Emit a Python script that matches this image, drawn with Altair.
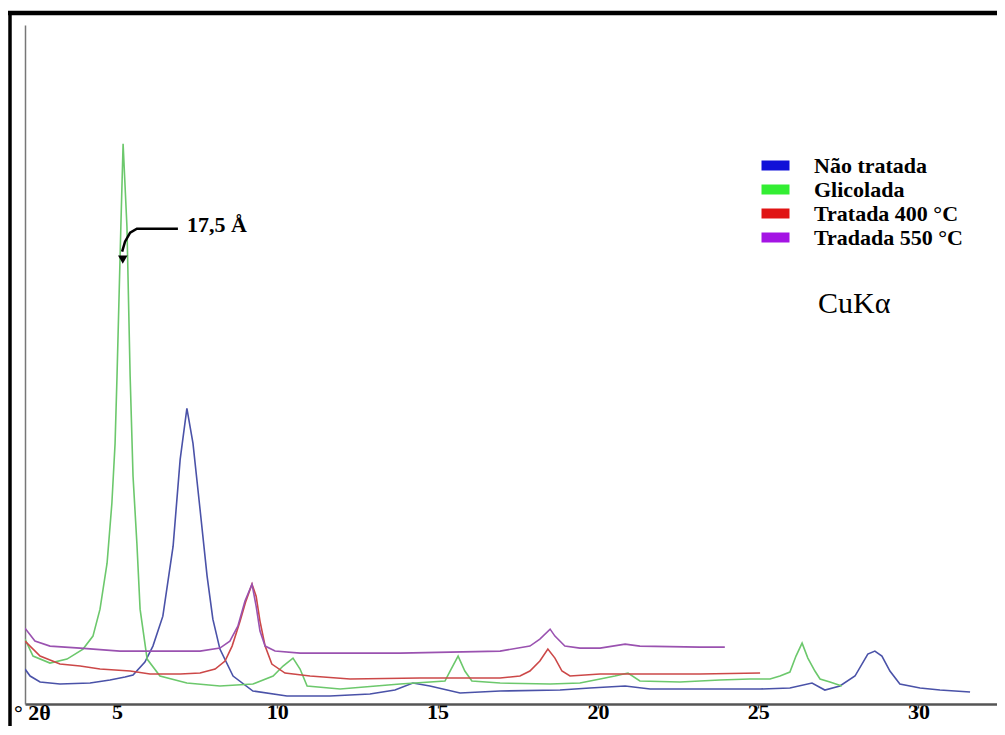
import altair as alt
import pandas as pd

# ---- data (2θ in degrees, intensity in arbitrary units) ----
blue_x = [2.13, 2.29, 2.60, 3.22, 4.16, 4.78, 5.25, 5.50, 5.87, 6.12, 6.43, 6.75, 6.97, 7.18,
          7.37, 7.59, 7.81, 7.99, 8.21, 8.62, 9.24, 10.30, 11.64, 12.89, 13.67, 14.23, 14.76,
          15.70, 16.95, 18.82, 19.75, 20.85, 21.63, 23.18, 25.06, 25.99, 26.68, 27.08, 27.55,
          28.02, 28.42, 28.64, 28.86, 29.11, 29.42, 30.05, 30.67, 31.61]
blue_y = [35, 28, 22, 20, 21, 24, 27, 29, 42, 58, 88, 158, 245, 296,
          261, 195, 128, 85, 55, 28, 13, 8, 8, 10, 14, 21, 18,
          11, 13, 14, 16, 18, 15, 15, 15, 16, 21, 14, 18,
          28, 50, 53, 48, 33, 20, 16, 14, 12]

green_x = [2.13, 2.38, 2.91, 3.44, 3.94, 4.25, 4.47, 4.69, 4.84, 4.94, 5.00, 5.12, 5.19, 5.31,
           5.41, 5.50, 5.62, 5.72, 5.94, 6.34, 7.18, 8.21, 9.24, 9.87, 10.18, 10.49, 10.71,
           10.93, 11.96, 13.83, 15.23, 15.39, 15.64, 15.85, 16.07, 16.95, 18.51, 19.44, 20.07,
           20.53, 20.94, 21.31, 22.56, 23.81, 24.74, 25.37, 25.68, 25.99, 26.18, 26.37, 26.55,
           26.77, 26.93, 27.24, 27.61]
green_y = [65, 48, 41, 45, 55, 68, 95, 141, 201, 261, 328, 478, 561, 478,
           328, 228, 161, 95, 45, 28, 21, 18, 20, 28, 38, 46, 35,
           18, 15, 20, 23, 33, 48, 33, 23, 21, 20, 21, 25,
           28, 31, 23, 22, 24, 25, 25, 28, 32, 48, 61, 46,
           33, 25, 22, 18]

red_x = [2.13, 2.60, 3.22, 3.85, 4.47, 5.41, 6.03, 6.97, 7.59, 8.06, 8.37, 8.59, 8.84, 9.02,
         9.21, 9.34, 9.46, 9.62, 9.83, 10.24, 11.02, 12.27, 14.45, 16.95, 17.57, 17.88, 18.19,
         18.44, 18.66, 18.88, 19.13, 20.07, 21.63, 23.18, 25.06]
red_y = [63, 48, 40, 38, 35, 33, 30, 30, 31, 35, 43, 58, 83, 103,
         120, 108, 83, 58, 40, 31, 28, 25, 26, 26, 28, 33, 43,
         55, 46, 33, 28, 30, 30, 30, 31]

purple_x = [2.13, 2.44, 2.91, 3.85, 5.09, 6.34, 7.59, 8.21, 8.52, 8.77, 8.99, 9.21, 9.34, 9.46,
            9.62, 9.93, 10.71, 13.83, 16.95, 17.88, 18.19, 18.51, 18.66, 18.97, 19.44, 20.07,
            20.85, 21.31, 23.18, 23.96]
purple_y = [76, 63, 58, 56, 53, 53, 53, 56, 63, 78, 103, 120, 98, 73,
            58, 53, 51, 51, 53, 58, 65, 75, 68, 58, 56, 56,
            60, 58, 57, 57]

series_names = ["Não tratada", "Glicolada", "Tratada 400 °C", "Tradada 550 °C"]
line_colors = ["#4a52a8", "#6cc86c", "#cc4848", "#9a52b0"]
legend_colors = ["#1010d8", "#33ee33", "#e01414", "#a414e4"]
x_ticks = [5, 10, 15, 20, 25, 30]

# annotation arrow for the 17,5 Å peak
arrow_x = [6.90, 5.62, 5.41, 5.25, 5.16]
arrow_y = [476, 476, 472, 463, 453]
arrow_label = "17,5 Å"

rows = []
for name, xs, ys in zip(series_names, [blue_x, green_x, red_x, purple_x],
                        [blue_y, green_y, red_y, purple_y]):
    for a, b in zip(xs, ys):
        rows.append({"serie": name, "theta": a, "I": b})
df = pd.DataFrame(rows)

xscale = alt.Scale(domain=[2.13, 32.45], nice=False, zero=False)
yscale = alt.Scale(domain=[0, 680], nice=False, zero=False)

SERIF = "Liberation Serif"

lines = alt.Chart(df).mark_line(strokeWidth=1.6, clip=True).encode(
    x=alt.X("theta:Q", scale=xscale,
            axis=alt.Axis(values=x_ticks, title=None, grid=False, domainColor="#555555",
                          domainWidth=2.5, tickColor="#555555", tickSize=4, tickWidth=1.5,
                          labelFont=SERIF, labelFontWeight="bold", labelFontSize=22,
                          labelColor="black", labelPadding=-7)),
    y=alt.Y("I:Q", scale=yscale,
            axis=alt.Axis(title=None, labels=False, ticks=False, grid=False,
                          domainColor="#777777", domainWidth=1.5)),
    stroke=alt.Stroke("serie:N", scale=alt.Scale(domain=series_names, range=line_colors),
                      legend=None),
)

legend_df = pd.DataFrame({"amostra": series_names})
legend_layer = alt.Chart(legend_df).mark_square(opacity=0).encode(
    x=alt.value(0), y=alt.value(0),
    color=alt.Color("amostra:N", sort=series_names,
                    scale=alt.Scale(range=legend_colors),
                    legend=alt.Legend(orient="none", legendX=738, legendY=128, title=None,
                                      symbolType="M-1.12,-0.4H1.12V0.4H-1.12Z",
                                      symbolSize=625, symbolOpacity=1, symbolStrokeWidth=0,
                                      labelFont=SERIF, labelFontWeight="bold",
                                      labelFontSize=22, labelColor="black",
                                      labelOffset=26, rowPadding=0, padding=0)),
)

arrow_df = pd.DataFrame({"theta": arrow_x, "I": arrow_y, "k": list(range(len(arrow_x)))})
arrow_line = alt.Chart(arrow_df).mark_line(color="black", strokeWidth=2.5).encode(
    x=alt.X("theta:Q", scale=xscale), y=alt.Y("I:Q", scale=yscale), order="k:Q")
head_df = pd.DataFrame({"theta": [arrow_x[-1] + 0.02], "I": [arrow_y[-1] - 8]})
arrow_head = alt.Chart(head_df).mark_point(shape="triangle-down", filled=True, color="black",
                                           size=90, opacity=1).encode(
    x=alt.X("theta:Q", scale=xscale), y=alt.Y("I:Q", scale=yscale))
label_df = pd.DataFrame({"theta": [7.18], "I": [480], "t": [arrow_label]})
arrow_text = alt.Chart(label_df).mark_text(align="left", baseline="middle", font=SERIF,
                                           fontWeight="bold", fontSize=22, color="black").encode(
    x=alt.X("theta:Q", scale=xscale), y=alt.Y("I:Q", scale=yscale), text="t:N")

cuka = alt.Chart(pd.DataFrame({"t": ["CuKα"]})).mark_text(
    align="left", baseline="middle", font=SERIF, fontSize=30, color="black").encode(
    x=alt.value(793), y=alt.value(279), text="t:N")

xlabel = alt.Chart(pd.DataFrame({"t": ["° 2θ"]})).mark_text(
    align="left", baseline="alphabetic", font=SERIF, fontWeight="bold", fontSize=22,
    color="black").encode(x=alt.value(-11), y=alt.value(695), text="t:N")

top_frame = alt.Chart(pd.DataFrame({"a": [0]})).mark_rule(color="black", strokeWidth=4.5).encode(
    x=alt.value(-17), x2=alt.value(975), y=alt.value(-12))
left_frame = alt.Chart(pd.DataFrame({"a": [0]})).mark_rule(color="black", strokeWidth=3.5).encode(
    x=alt.value(-15), y=alt.value(-14), y2=alt.value(702))

chart = alt.layer(lines, arrow_line, arrow_head, arrow_text, cuka, xlabel, top_frame,
                  left_frame, legend_layer).properties(
    width=972, height=679,
    background="white",
    autosize=alt.AutoSizeParams(type="none"),
    padding={"left": 17, "top": 17, "right": 0, "bottom": 22},
).configure_view(stroke=None)

chart.save("out.html", embed_options={"renderer": "svg", "actions": False})
